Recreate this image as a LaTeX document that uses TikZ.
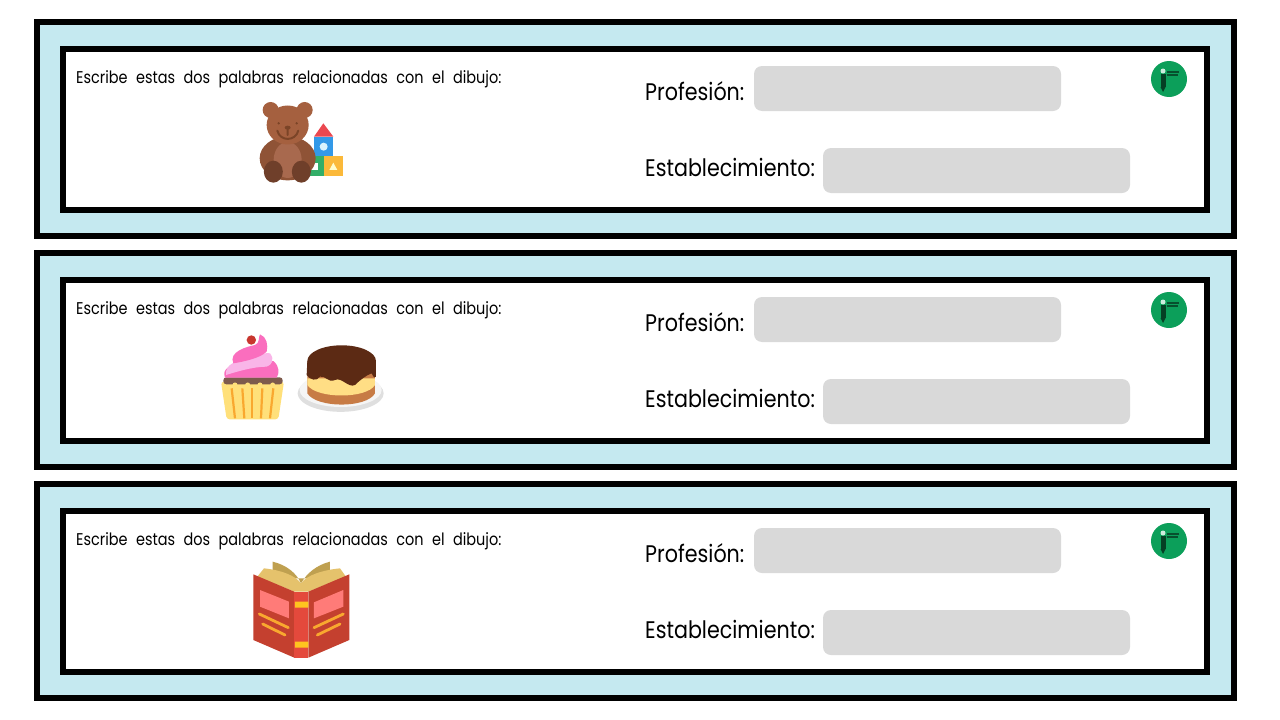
\documentclass[tikz,border=0pt]{standalone}
\usepackage{fontspec}
\setmainfont{Poppins}
\newfontfamily\askfont[FakeStretch=0.85, WordSpace=2.2]{Poppins}
\newfontfamily\answerfont[FakeStretch=0.86]{Poppins}
\definecolor{bandblue}{HTML}{C5E9F0}
\definecolor{fieldgrey}{HTML}{D9D9D9}
\definecolor{badgegreen}{HTML}{0C9F5A}
\definecolor{bearhead}{HTML}{A5603F}
\definecolor{bearbody}{HTML}{8F5336}
\definecolor{bearbelly}{HTML}{A8694E}
\definecolor{bearfoot}{HTML}{6F3F2A}
\definecolor{beareye}{HTML}{7B4427}
\definecolor{blockred}{HTML}{EB4850}
\definecolor{blockblue}{HTML}{3399E8}
\definecolor{blockgreen}{HTML}{33AE68}
\definecolor{blockyellow}{HTML}{FBB93A}
\definecolor{paperyellow}{HTML}{FFE07A}
\definecolor{stripeorange}{HTML}{F9A82F}
\definecolor{crumbbrown}{HTML}{7D5A4C}
\definecolor{icingpink}{HTML}{FA6EBE}
\definecolor{icinglight}{HTML}{F9B5E8}
\definecolor{cherryred}{HTML}{C8362E}
\definecolor{chocbrown}{HTML}{5C2A14}
\definecolor{creamyellow}{HTML}{FFDE85}
\definecolor{spongebrown}{HTML}{C77B45}
\definecolor{coverred}{HTML}{C4402F}
\definecolor{spinered}{HTML}{E4493C}
\definecolor{bandgold}{HTML}{FFC41F}
\definecolor{pagetan}{HTML}{E5C26C}
\definecolor{pageback}{HTML}{BFA050}
\definecolor{windowpink}{HTML}{FF7B78}
\tikzset{
	outerbox/.style = {draw=black, line width=6pt, fill=bandblue, minimum width=1197pt, minimum height=214pt, inner sep=0pt},
	innerbox/.style = {draw=black, line width=6pt, fill=white, minimum width=1144pt, minimum height=161pt, inner sep=0pt},
	field/.style    = {fill=fieldgrey, rounded corners=8pt, minimum width=307pt, minimum height=45pt, inner sep=0pt},
	prompt/.style   = {anchor=base west, inner sep=0pt, font=\askfont\fontsize{17}{20}\selectfont},
	answer/.style   = {anchor=base west, inner sep=0pt, font=\answerfont\fontsize{24}{28}\selectfont},
	badge/.style    = {circle, fill=badgegreen, minimum size=36pt, inner sep=0pt}
}
\begin{document}
\begin{tikzpicture}[x=1pt, y=-1pt]
	\useasboundingbox (0,0) rectangle (1280,720);
	\foreach \row/\off in {a/0, b/231, c/462} {
		\begin{scope}[yshift=-\off pt]
			\node [outerbox] (outer\row) at (635.5,129) {};
			\node [innerbox] (inner\row) at (635,129) {};
			\node [prompt] (ask\row) at (76,83) {Escribe estas dos palabras relacionadas con el dibujo:};
			\node [answer] (job\row) at (645,100) {Profesión:};
			\node [answer] (shop\row) at (645,176) {Establecimiento:};
			\node [field] (jobfield\row) at (907.5,88.5) {};
			\node [field] (shopfield\row) at (976.5,170.5) {};
			\node [badge] (badge\row) at (1169,79) {};
			\fill [black!60!badgegreen] (1160.5,74) rectangle (1165.5,87);
			\fill [black!60!badgegreen] (1160.5,87) -- (1165.5,87) -- (1163,92) -- cycle;
			\fill [white!80!badgegreen] (1163,71) circle (2.5pt);
			\fill [black!50!badgegreen] (1167,71) rectangle (1179,72.5);
			\fill [black!50!badgegreen] (1167,74) rectangle (1178,75.5);
		\end{scope}
	}
	% bear and blocks
	\begin{scope}[shift={(240,90)}, x=0.3333pt, y=-0.3333pt]
		\fill [blockred] (250,100) -- (222,140) -- (280,140) -- cycle;
		\fill [blockblue] (222,140) rectangle (280,198);
		\fill [white!85!cyan] (251,170) circle (4pt);
		\fill [blockgreen] (205,198) rectangle (251,258);
		\fill [white] (212,218) rectangle (235,240);
		\fill [blockyellow] (251,198) rectangle (309,258);
		\fill [white!80!yellow] (280,218) -- (268,240) -- (292,240) -- cycle;
		\fill [bearhead] (92,60) circle (8pt) (194,60) circle (8pt);
		\fill [bearbody] (143,205) ellipse (28pt and 22pt);
		\fill [bearbelly] (143,210) ellipse (14pt and 18pt);
		\fill [bearhead] (143,105) ellipse (21pt and 19.5pt);
		\fill [bearfoot] (100,245) ellipse (9.5pt and 11pt) (184,245) ellipse (9.5pt and 11pt);
		\fill [beareye] (116,100) circle (1.3pt) (170,100) circle (1.3pt) (143,113) ellipse (3pt and 2pt);
		\draw [beareye, line width=2pt, line cap=round] (112,122) .. controls (120,155) and (166,155) .. (175,122) (143,113) -- (143,135);
	\end{scope}
	% cupcake and cake
	\begin{scope}[shift={(210,325)}, x=0.3333pt, y=-0.3333pt]
		\fill [paperyellow, rounded corners=3pt] (33,170) -- (222,170) -- (205,283) -- (50,283) -- cycle;
		\foreach \xa/\xb in {65/75, 97/103, 127/127, 157/153, 190/180}
			\draw [stripeorange, line width=2.2pt] (\xa,190) -- (\xb,280);
		\fill [crumbbrown, rounded corners=3pt] (40,157) rectangle (218,178);
		\foreach \xa in {75,113,150,188}
			\fill [paperyellow] (\xa,180) circle (2.5pt);
		\fill [icingpink] (45,158) .. controls (35,130) and (60,120) .. (100,115) -- (190,108) .. controls (210,125) and (208,145) .. (200,158) -- cycle;
		\fill [icinglight] (48,150) .. controls (45,115) and (80,108) .. (120,100) .. controls (150,92) and (170,80) .. (180,85) .. controls (195,105) and (185,120) .. (170,125) .. controls (130,125) and (80,140) .. cycle;
		\fill [icingpink] (70,115) .. controls (55,80) and (110,65) .. (135,60) .. controls (150,55) and (145,35) .. (150,28) .. controls (170,35) and (175,60) .. (170,80) .. controls (150,100) and (100,110) .. cycle;
		\fill [cherryred] (124,45) circle (4.7pt);
		\fill [gray!25] (392,205) ellipse (43pt and 18.5pt);
		\fill [gray!8] (392,195) ellipse (41pt and 17pt);
		\fill [spongebrown] (292,130) -- (292,205) .. controls (320,250) and (470,250) .. (495,205) -- (495,130) -- cycle;
		\fill [creamyellow] (292,160) -- (292,180) .. controls (320,222) and (470,222) .. (495,180) -- (495,160) -- cycle;
		\fill [chocbrown] (395,108) ellipse (34.3pt and 15.7pt);
		\fill [chocbrown] (292,108) -- (290,150) .. controls (300,165) and (320,170) .. (330,155) .. controls (345,150) and (355,175) .. (375,165) .. controls (395,155) and (415,190) .. (435,180) .. controls (450,165) and (470,150) .. (485,145) .. controls (490,160) and (500,160) .. (498,150) -- (498,108) -- cycle;
	\end{scope}
	% book
	\begin{scope}[shift={(240,555)}, x=0.3333pt, y=-0.3333pt]
		\fill [pageback] (98,20) .. controls (140,30) and (170,55) .. (183,85) .. controls (200,55) and (230,30) .. (270,20) -- (270,70) -- (98,70) -- cycle;
		\fill [pagetan] (52,65) -- (72,40) .. controls (120,45) and (165,60) .. (183,85) .. controls (200,60) and (250,45) .. (300,40) -- (318,65) -- (205,110) -- (163,110) -- cycle;
		\fill [coverred] (40,58) -- (163,110) -- (163,308) -- (40,255) -- cycle;
		\fill [coverred] (328,58) -- (205,110) -- (205,308) -- (328,255) -- cycle;
		\fill [spinered] (163,110) rectangle (205,308);
		\fill [bandgold] (165,140) rectangle (205,158) (165,260) rectangle (205,278);
		\fill [windowpink] (60,105) -- (147,140) -- (147,190) -- (60,155) -- cycle;
		\fill [windowpink] (222,142) -- (310,105) -- (310,155) -- (222,190) -- cycle;
		\draw [stripeorange, line width=2.8pt, line cap=round] (58,177) -- (145,218) (68,207) -- (135,240) (222,218) -- (310,177) (232,240) -- (300,207);
	\end{scope}
\end{tikzpicture}
\end{document}
